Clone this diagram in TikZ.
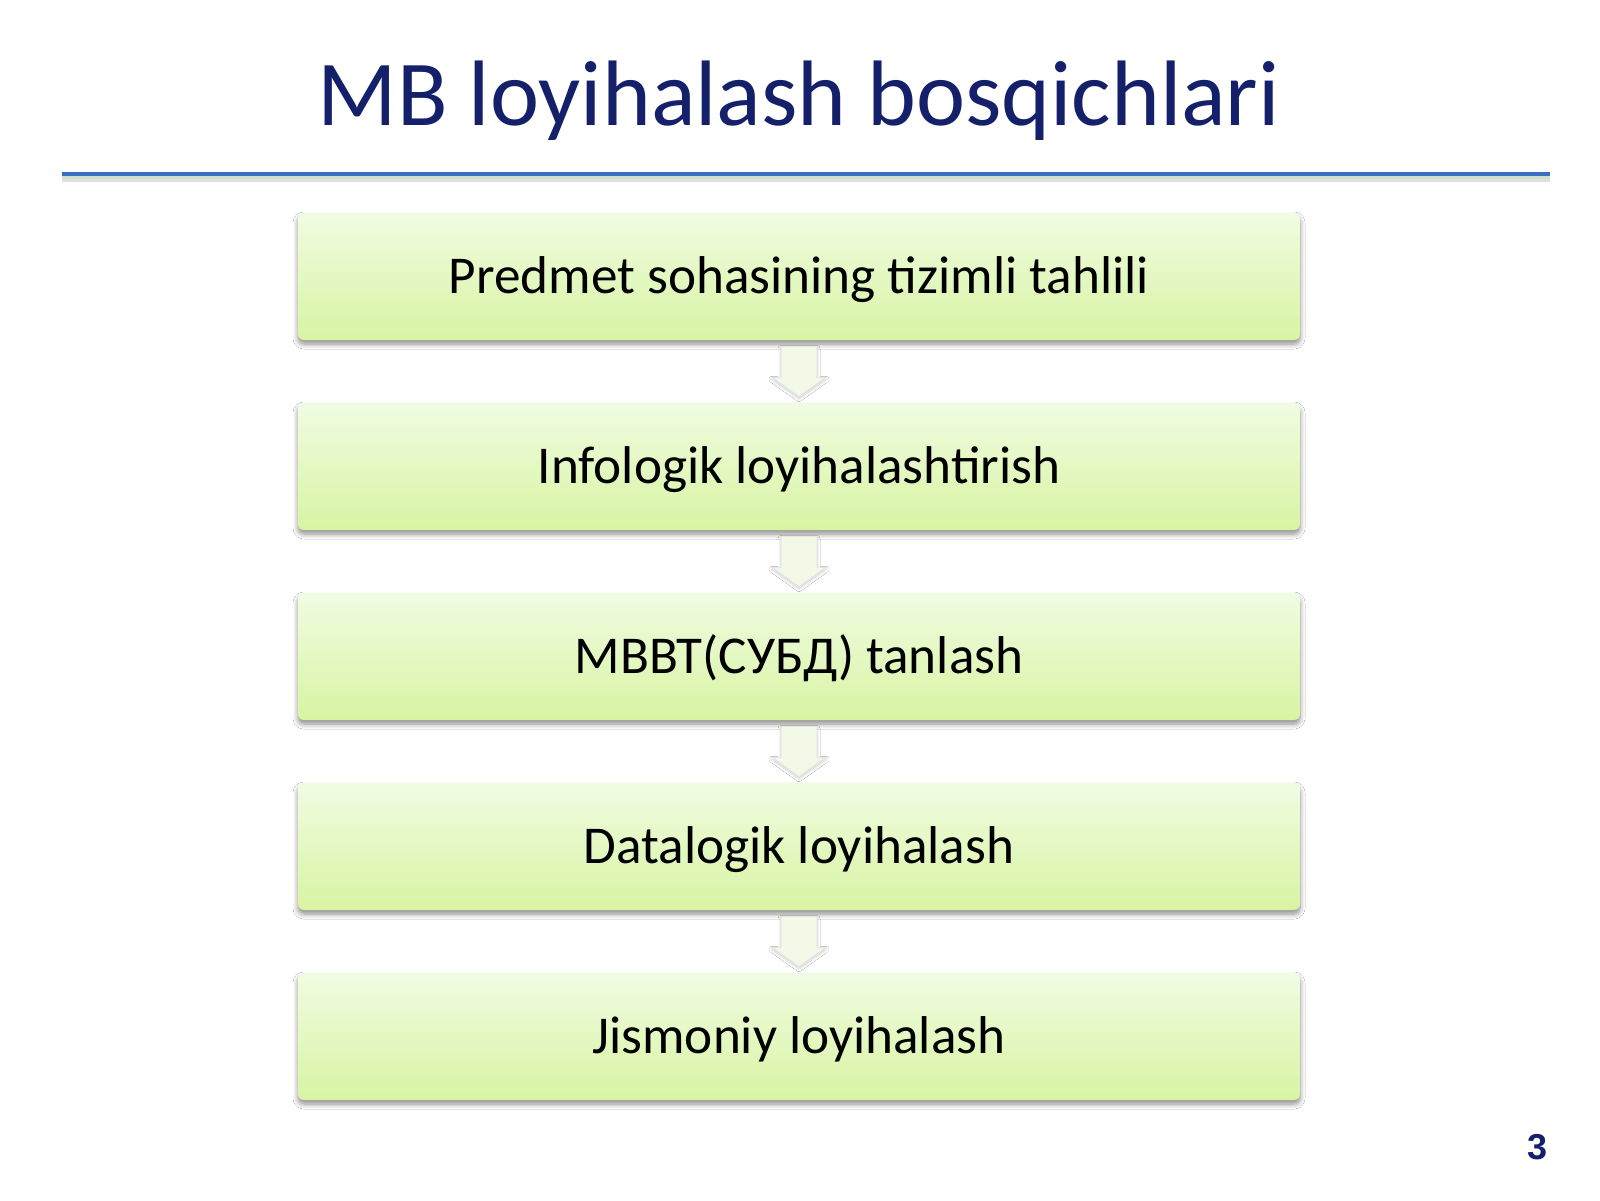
\documentclass[tikz,border=0pt]{standalone}
\usepackage{fontspec}
\setmainfont{Carlito}
\newfontfamily\numfont{Liberation Sans}
\usetikzlibrary{calc,shadows,shadows.blur}
\definecolor{titleblue}{HTML}{14206A}
\definecolor{rulebl}{HTML}{3F6DC2}
\definecolor{boxtop}{HTML}{F0FCE2}
\definecolor{boxbot}{HTML}{D8F4A2}
\definecolor{arrfill}{HTML}{F2F9E6}
\tikzset{
  stepbox/.style={rounded corners=3pt, top color=boxtop, bottom color=boxbot,
    minimum width=501pt, minimum height=63.5pt, inner sep=0pt,
    text height=17pt, text depth=0pt,
    font=\fontsize{26.6}{30}\selectfont, text=black,
    blur shadow={shadow xshift=0pt, shadow yshift=-2pt, shadow blur radius=2.5pt,
      shadow blur steps=6, shadow opacity=45}},
  downarr/.style={fill=arrfill, draw=black!10, line width=0.5pt,
    blur shadow={shadow xshift=0pt, shadow yshift=-1pt, shadow blur radius=1.5pt,
      shadow blur steps=4, shadow opacity=20}}
}
\begin{document}
\begin{tikzpicture}[x=0.5pt,y=-0.5pt]
\useasboundingbox[fill=white] (0,0) rectangle (1600,1200);
% title
\node[font=\fontsize{46.5}{52}\selectfont, text=titleblue, anchor=base] (title) at (799,125) {MB loyihalash bosqichlari};
% rule
\coordinate (rl) at (62,174);
\coordinate (rr) at (1550,174);
\draw[line width=2.5pt, black!12] ($(rl)+(0,5)$) -- ($(rr)+(0,5)$);
\draw[line width=1.2pt, green!40!black!20] ($(rl)+(0,3.5)$) -- ($(rr)+(0,3.5)$);
\draw[line width=2.2pt, rulebl] (rl) -- (rr);
% boxes
\node[stepbox] (b1) at (799,276.5) {Predmet sohasining tizimli tahlili};
\node[stepbox] (b2) at (799,466.5) {Infologik loyihalashtirish};
\node[stepbox] (b3) at (799,656.5) {MBBT(СУБД) tanlash};
\node[stepbox] (b4) at (799,846.5) {Datalogik loyihalash};
\node[stepbox] (b5) at (799,1036.5) {Jismoniy loyihalash};
% arrows
\foreach \a/\b in {b1/b2,b2/b3,b3/b4,b4/b5}{
  \path[downarr] ($(\a.south)+(-18,6)$) -- ($(\a.south)+(18,6)$) -- ($(\a.south)+(18,37)$)
    -- ($(\a.south)+(27,37)$) -- ($(\b.north)+(0,-6)$) -- ($(\a.south)+(-27,37)$)
    -- ($(\a.south)+(-18,37)$) -- cycle;
}
% page number
\node[font=\numfont\bfseries\fontsize{18}{20}\selectfont, text=titleblue, anchor=base] (pg) at (1537,1159) {3};
\end{tikzpicture}
\end{document}
